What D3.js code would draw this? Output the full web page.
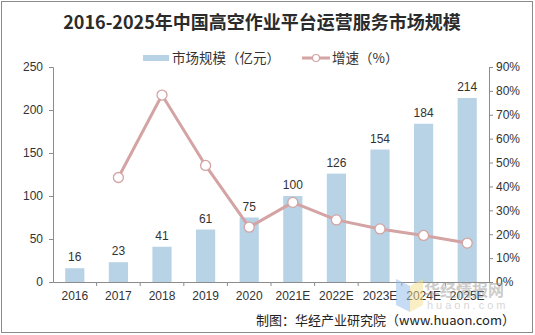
<!DOCTYPE html>
<html>
<head>
<meta charset="utf-8" />
<title>高空作业平台运营服务市场规模</title>
<style type="text/css">
  html, body { margin: 0; background: #fff; }
  svg { display: block; font-family: "Liberation Sans", Arial, sans-serif; }
  .cjk { font-family: "Noto Sans CJK SC", sans-serif; }
  .axis path, .axis line { stroke: #8c8c8c; }
  .axis text { fill: #333; font-size: 12px; font-family: "Liberation Sans", Arial, sans-serif; }
</style>
</head>
<body>
<div id="container"></div>
<script src="https://cdn.jsdelivr.net/npm/d3@7/dist/d3.min.js"></script>
<script>
var years = ["2016", "2017", "2018", "2019", "2020", "2021E", "2022E", "2023E", "2024E", "2025E"];
var scale = [16, 23, 41, 61, 75, 100, 126, 154, 184, 214];
// growth rate in %, first year has none
var growth = [null, 43.75, 78.26, 48.78, 22.95, 33.33, 26.0, 22.22, 19.48, 16.3];
var leftTicks = [0, 50, 100, 150, 200, 250];
var rightTicks = [0, 10, 20, 30, 40, 50, 60, 70, 80, 90];

var W = 535, H = 335;
var m = { left: 53, right: 46, top: 67, bottom: 53 };

var svg = d3.select("#container").append("svg")
    .attr("width", W)
    .attr("height", H);

svg.append("rect")
    .attr("x", 1.5).attr("y", 1.5)
    .attr("width", W - 4).attr("height", H - 4)
    .attr("fill", "#fff")
    .attr("stroke", "#8a8a8a");

var x = d3.scaleBand()
    .domain(years)
    .range([m.left, W - m.right])
    .paddingInner(0.56)
    .paddingOuter(0.28);

var y = d3.scaleLinear().domain([0, 250]).range([H - m.bottom, m.top]);
var y2 = d3.scaleLinear().domain([0, 90]).range([H - m.bottom, m.top]);

// title
svg.append("text")
    .attr("class", "cjk")
    .attr("x", 262).attr("y", 29)
    .attr("text-anchor", "middle")
    .attr("font-size", 18)
    .attr("font-weight", "bold")
    .attr("fill", "#2b2b2b")
    .text("2016-2025年中国高空作业平台运营服务市场规模");

// legend
var leg = svg.append("g").attr("class", "cjk");
leg.append("rect")
    .attr("x", 143).attr("y", 55)
    .attr("width", 26).attr("height", 6)
    .attr("fill", "#b8d3e5");
leg.append("text")
    .attr("x", 172).attr("y", 63)
    .attr("font-size", 13.5).attr("fill", "#333")
    .text("市场规模（亿元）");
leg.append("line")
    .attr("x1", 302).attr("x2", 330)
    .attr("y1", 58).attr("y2", 58)
    .attr("stroke", "#d4a3a3").attr("stroke-width", 3);
leg.append("circle")
    .attr("cx", 316).attr("cy", 58).attr("r", 3.5)
    .attr("fill", "#fff").attr("stroke", "#d4a3a3").attr("stroke-width", 1.2);
leg.append("text")
    .attr("x", 332).attr("y", 63)
    .attr("font-size", 13.5).attr("fill", "#333")
    .text("增速（%）");

// axes
svg.append("g")
    .attr("class", "axis")
    .attr("transform", "translate(" + m.left + ",0)")
    .call(d3.axisLeft(y).tickValues(leftTicks).tickSizeOuter(0).tickSize(4).tickPadding(6));

svg.append("g")
    .attr("class", "axis")
    .attr("transform", "translate(" + (W - m.right) + ",0)")
    .call(d3.axisRight(y2).tickValues(rightTicks).tickSizeOuter(0).tickSize(4).tickPadding(3)
        .tickFormat(function(d) { return d + "%"; }));

var xAxis = svg.append("g")
    .attr("class", "axis")
    .attr("transform", "translate(0," + (H - m.bottom) + ")")
    .call(d3.axisBottom(x).tickSize(0).tickSizeOuter(0).tickPadding(9));

// ticks sit between categories
xAxis.selectAll(".sep")
    .data(d3.range(1, years.length))
    .enter().append("line")
    .attr("x1", function(i) { return m.left + i * x.step(); })
    .attr("x2", function(i) { return m.left + i * x.step(); })
    .attr("y1", 0).attr("y2", 4)
    .attr("stroke", "#8c8c8c");

// bars
svg.append("g").selectAll("rect")
    .data(scale)
    .enter().append("rect")
    .attr("x", function(d, i) { return x(years[i]); })
    .attr("y", function(d) { return y(d); })
    .attr("width", x.bandwidth())
    .attr("height", function(d) { return y(0) - y(d); })
    .attr("fill", "#b8d3e5");

svg.append("g").selectAll("text")
    .data(scale)
    .enter().append("text")
    .attr("x", function(d, i) { return x(years[i]) + x.bandwidth() / 2; })
    .attr("y", function(d) { return y(d) - 7; })
    .attr("text-anchor", "middle")
    .attr("font-size", 12)
    .attr("fill", "#333")
    .text(function(d) { return d; });

// growth line
var pts = growth.map(function(d, i) { return { year: years[i], v: d }; })
    .filter(function(d) { return d.v !== null; });

var line = d3.line()
    .x(function(d) { return x(d.year) + x.bandwidth() / 2; })
    .y(function(d) { return y2(d.v); });

svg.append("path")
    .datum(pts)
    .attr("d", line)
    .attr("fill", "none")
    .attr("stroke", "#d4a3a3")
    .attr("stroke-width", 3)
    .attr("stroke-linejoin", "round");

svg.append("g").selectAll("circle")
    .data(pts)
    .enter().append("circle")
    .attr("cx", function(d) { return x(d.year) + x.bandwidth() / 2; })
    .attr("cy", function(d) { return y2(d.v); })
    .attr("r", 5)
    .attr("fill", "#fff")
    .attr("stroke", "#d4a3a3")
    .attr("stroke-width", 1.3);

// watermark
var wm = svg.append("g").attr("opacity", 0.5);
wm.append("path")
    .attr("d", "M396,279 L410,286 L410,312 L396,305 Z")
    .attr("fill", "#8fb8ea");
wm.append("path")
    .attr("d", "M410,286 L423,279 L423,305 L410,312 Z")
    .attr("fill", "#f6e08a");
wm.append("text")
    .attr("class", "cjk")
    .attr("x", 424).attr("y", 296)
    .attr("font-size", 16).attr("font-weight", "bold")
    .attr("fill", "#9a9a9a")
    .text("华经情报网");
wm.append("text")
    .attr("x", 427).attr("y", 309)
    .attr("font-size", 11).attr("letter-spacing", 3)
    .attr("fill", "#b0b0b0")
    .text("huaon.com");

// source
svg.append("text")
    .attr("class", "cjk")
    .attr("x", 515).attr("y", 325)
    .attr("text-anchor", "end")
    .attr("font-size", 13)
    .attr("fill", "#222")
    .text("制图：华经产业研究院（www.huaon.com）");
</script>
</body>
</html>
